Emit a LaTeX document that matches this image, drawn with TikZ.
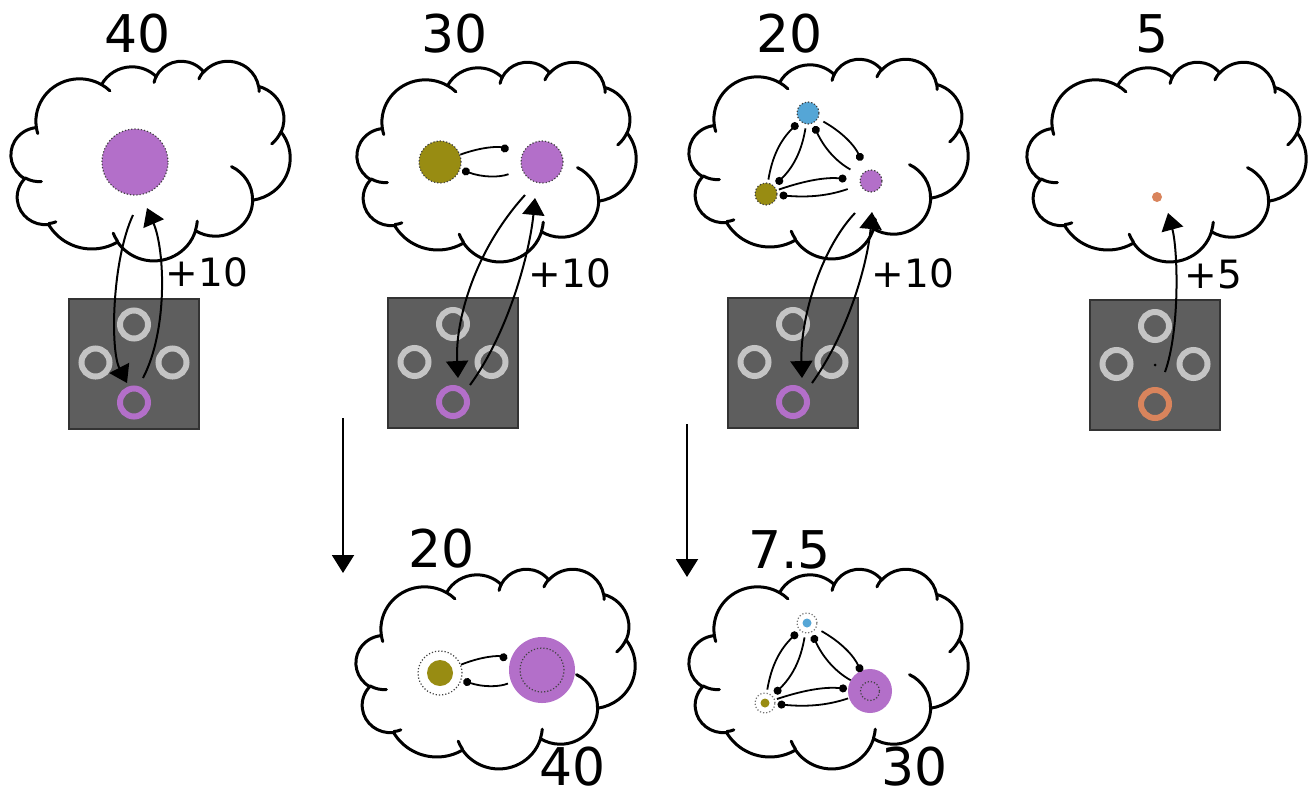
\documentclass[tikz,border=0pt]{standalone}
\usepackage{fontspec}
\setmainfont{DejaVu Sans}
\usetikzlibrary{arrows.meta}
\definecolor{cpurple}{HTML}{B36FC9}
\definecolor{colive}{HTML}{988C12}
\definecolor{cblue}{HTML}{55A6D6}
\definecolor{corange}{HTML}{D9845C}
\definecolor{boxgray}{HTML}{5E5E5E}
\definecolor{ringgray}{HTML}{C4C4C4}

% arc of the cloud outline: wR, hR, start (visual angle), sweep
\newcommand\cldarc[4]{%
  \pgfmathsetmacro\cldts{atan2((#1)*sin(#3),(#2)*cos(#3))}%
  \pgfmathsetmacro\cldtr{atan2((#1)*sin((#3)+(#4)),(#2)*cos((#3)+(#4)))}%
  \pgfmathsetmacro\cldtx{(\cldtr)-(\cldts)-(#4)}%
  \pgfmathsetmacro\cldte{(\cldts)+(#4)+(\cldtx)-360*round((\cldtx)/360)}%
  \pgfpatharc{\cldts}{\cldte}{#1pt and #2pt}%
}
\newcommand\cloudat[2]{%
  \begin{scope}[shift={(#1-0.9,#2-11.4)}, xscale=0.322917, yscale=-0.231019]
    \pgfsetlinewidth{1.5pt}\pgfsetroundjoin\pgfsetroundcap
    \pgfsetstrokecolor{black}\pgfsetfillcolor{white}
    \pgfpathmoveto{\pgfpoint{39pt}{143.7pt}}
    \cldarc{67.53}{91.90}{-190.48748}{123.78053}
    \cldarc{53.33}{72.67}{-144.10238}{89.94523}
    \cldarc{43.65}{59.45}{-145.80792}{99.72302}
    \cldarc{48.57}{65.95}{-130.98607}{117.24173}
    \cldarc{53.33}{72.73}{-78.70888}{109.02692}
    \cldarc{67.75}{92.20}{-46.26725}{130.269}
    \cldarc{57.85}{78.67}{0.62502}{114.03333}
    \cldarc{67.52}{92.15}{22.4516}{115.17255}
    \cldarc{77.20}{105.43}{66.24263}{75.71102}
    \cldarc{43.60}{59.18}{-274.94208}{146.73557}
    \cldarc{43.45}{59.45}{-246.8285}{152.51885}
    \pgfpathclose
    \pgfusepath{fill,stroke}
    \pgfpathmoveto{\pgfpoint{46.93pt}{261.77pt}}\cldarc{43.45}{59.45}{86.742}{26.4295}
    \pgfpathmoveto{\pgfpoint{69.28pt}{348.99pt}}\cldarc{43.60}{59.18}{73.61047}{11.44747}
    \pgfpathmoveto{\pgfpoint{164.78pt}{390.90pt}}\cldarc{67.52}{92.15}{137.62415}{14.0811}
    \pgfpathmoveto{\pgfpoint{288.27pt}{347.51pt}}\cldarc{67.52}{92.15}{6.45327}{15.99835}
    \pgfpathmoveto{\pgfpoint{341.29pt}{229.54pt}}\cldarc{57.85}{78.67}{-70.29235}{70.91737}
    \pgfpathmoveto{\pgfpoint{417.98pt}{153.54pt}}\cldarc{53.33}{72.73}{30.31803}{27.7515}
    \pgfpathmoveto{\pgfpoint{383.24pt}{54.26pt}}\cldarc{48.57}{65.95}{-13.74433}{14.8589}
    \pgfpathmoveto{\pgfpoint{290.78pt}{39.52pt}}\cldarc{48.57}{65.95}{-149.18145}{18.19537}
    \pgfpathmoveto{\pgfpoint{221.41pt}{47.20pt}}\cldarc{43.65}{59.45}{-163.49427}{17.68635}
    \pgfpathmoveto{\pgfpoint{140.00pt}{51.92pt}}\cldarc{67.53}{91.90}{-66.70695}{12.31935}
    \pgfpathmoveto{\pgfpoint{41.27pt}{157.89pt}}\cldarc{67.53}{91.90}{157.65435}{11.85817}
    \pgfusepath{stroke}
  \end{scope}
}

\tikzset{
  title/.style={font=\fontsize{26}{31}\selectfont, inner sep=0pt},
  gain/.style={font=\fontsize{19.5}{23}\selectfont, inner sep=0pt},
  screen/.style={rectangle, draw=black!80, line width=1pt, fill=boxgray, minimum size=65pt, inner sep=0pt},
  ring/.style={circle, draw=ringgray, line width=3pt, minimum size=14pt, inner sep=0pt},
  blob/.style={circle, inner sep=0pt, minimum size=#1},
  dotline/.style={draw=black!75, densely dotted, line width=0.6pt},
  link/.style={-{Circle[length=4pt]}, line width=0.9pt},
  flow/.style={-{Triangle[width=11pt,length=8.5pt]}, line width=1pt},
}
\newcommand\screenat[4]{%
  \node[screen] (#1) at (#2,#3) {};
  \node[ring] (#1t) at (#2,#3-39) {};
  \node[ring] (#1l) at (#2-38.5,#3-1) {};
  \node[ring] (#1r) at (#2+38.5,#3-1) {};
  \node[ring, draw=#4] (#1b) at (#2,#3+39) {};
}

\begin{document}
\begin{tikzpicture}[x=0.5pt, y=-0.5pt]
\useasboundingbox (0,0) rectangle (1312,799);

% clouds
\cloudat{12}{72}
\cloudat{358}{73}
\cloudat{690}{70}
\cloudat{1028}{73}
\cloudat{357}{580}
\cloudat{690}{580}

% titles
\node[title] (t1) at (137.5,34) {40};
\node[title] (t2) at (455,34) {30};
\node[title] (t3) at (790,34) {20};
\node[title] (t4) at (1152,34) {5};
\node[title] (t5) at (441.5,548.5) {20};
\node[title] (t6) at (789.5,550) {7.5};
\node[title] (t7) at (573,767) {40};
\node[title] (t8) at (915,767) {30};

% screens
\screenat{s1}{134}{363.5}{cpurple}
\screenat{s2}{453}{363}{cpurple}
\screenat{s3}{793}{363}{cpurple}
\screenat{s4}{1155}{365}{corange}
\node[circle, fill=black, inner sep=0pt, minimum size=1.5pt] (fix) at (1155,365) {};

% panel 1
\node[blob=33pt, fill=cpurple, dotline] (p1) at (135,162) {};

% panel 2
\node[blob=21pt, fill=colive, dotline] (o2) at (440,162) {};
\node[blob=21pt, fill=cpurple, dotline] (m2) at (542,162) {};
\draw[link, shorten >=7pt] (o2) to[bend left=20] (m2);
\draw[link, shorten <=7pt, shorten >=1pt] (m2) to[bend left=20] (o2);

% panel 3
\node[blob=11pt, fill=cblue, dotline] (b3) at (808,113) {};
\node[blob=11pt, fill=colive, dotline] (o3) at (766,194) {};
\node[blob=11pt, fill=cpurple, dotline] (m3) at (871,181) {};
\draw[link, shorten <=1.5pt, shorten >=1.5pt] (o3) to[bend left=18] (b3);
\draw[link, shorten <=2pt, shorten >=1.5pt] (b3) to[bend left=18] (o3);
\draw[link, shorten <=3pt, shorten >=5.5pt] (b3) to[bend left=18] (m3);
\draw[link, shorten <=6pt, shorten >=1.5pt] (m3) to[bend left=18] (b3);
\draw[link, shorten <=1pt, shorten >=6.5pt] (o3) to[bend left=12] (m3);
\draw[link, shorten <=6.5pt, shorten >=1pt] (m3) to[bend left=12] (o3);

% panel 4
\node[blob=5pt, fill=corange] (r4) at (1157,197) {};

% panel 5
\node[blob=13pt, fill=colive] (o5f) at (440,673) {};
\node[blob=22pt, dotline] (o5) at (440,673) {};
\node[blob=33pt, fill=cpurple] (m5f) at (542,670) {};
\node[blob=22pt, dotline] (m5) at (542,670) {};
\draw[link, shorten >=7pt] (o5) to[bend left=20] (m5);
\draw[link, shorten <=7pt, shorten >=1pt] (m5) to[bend left=20] (o5);

% panel 6
\node[blob=4.5pt, fill=cblue] (b6f) at (807,623) {};
\node[blob=10pt, draw=black!55, densely dotted, line width=0.6pt] (b6) at (807,623) {};
\node[blob=4.5pt, fill=colive] (o6f) at (765,703) {};
\node[blob=10pt, draw=black!55, densely dotted, line width=0.6pt] (o6) at (765,703) {};
\node[blob=22pt, fill=cpurple] (m6f) at (870,691) {};
\node[blob=9.5pt, dotline] (m6) at (870,691) {};
\draw[link, shorten <=1.5pt, shorten >=1.5pt] (o6) to[bend left=18] (b6);
\draw[link, shorten <=2pt, shorten >=1.5pt] (b6) to[bend left=18] (o6);
\draw[link, shorten <=3pt, shorten >=5.5pt] (b6) to[bend left=18] (m6);
\draw[link, shorten <=6pt, shorten >=1.5pt] (m6) to[bend left=18] (b6);
\draw[link, shorten <=1pt, shorten >=6.5pt] (o6) to[bend left=12] (m6);
\draw[link, shorten <=6.5pt, shorten >=1pt] (m6) to[bend left=12] (o6);

% attention arrows
\coordinate (a1s) at (133,215); \coordinate (a1e) at (127,383);
\coordinate (u1s) at (143,378); \coordinate (u1e) at (147,208);
\draw[flow] (a1s) .. controls (112,260) and (110,350) .. (a1e);
\draw[flow] (u1s) .. controls (168,330) and (165,250) .. (u1e);
\coordinate (a2s) at (525,195); \coordinate (a2e) at (458,378);
\coordinate (u2s) at (470,385); \coordinate (u2e) at (535,198);
\draw[flow] (a2s) .. controls (475,250) and (455,320) .. (a2e);
\draw[flow] (u2s) .. controls (510,330) and (530,250) .. (u2e);
\coordinate (a3s) at (855,213); \coordinate (a3e) at (802,378);
\coordinate (u3s) at (812,383); \coordinate (u3e) at (872,212);
\draw[flow] (a3s) .. controls (820,250) and (800,320) .. (a3e);
\draw[flow] (u3s) .. controls (850,330) and (868,260) .. (u3e);
\coordinate (u4s) at (1165,372); \coordinate (u4e) at (1168,213);
\draw[flow] (u4s) .. controls (1180,330) and (1178,250) .. (u4e);

% gains
\node[gain] (g1) at (207,272.5) {+10};
\node[gain] (g2) at (570,273) {+10};
\node[gain] (g3) at (913,273) {+10};
\node[gain] (g4) at (1213.5,275) {+5};

% transitions
\coordinate (v1s) at (343,418); \coordinate (v1e) at (343,573);
\coordinate (v2s) at (687,424); \coordinate (v2e) at (687,577);
\draw[flow, -{Triangle[width=11pt,length=9pt]}] (v1s) -- (v1e);
\draw[flow, -{Triangle[width=11pt,length=9pt]}] (v2s) -- (v2e);
\end{tikzpicture}
\end{document}
